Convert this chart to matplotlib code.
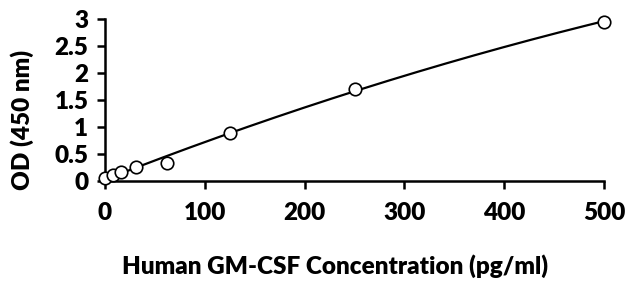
import numpy as np
import matplotlib.pyplot as plt

# Standard curve points
conc = [0, 7.8, 15.6, 31.25, 62.5, 125, 250, 500]
od = [0.05, 0.11, 0.17, 0.26, 0.33, 0.89, 1.71, 2.95]

plt.rcParams['font.family'] = ['Lato', 'DejaVu Sans']
plt.rcParams['font.weight'] = 'heavy'

# quadratic trendline through the points
coef = np.polyfit(conc, od, 2)
xfit = np.linspace(0, 500, 300)
yfit = np.polyval(coef, xfit)

fig = plt.figure(figsize=(6.28, 2.82), dpi=100)
ax = fig.add_axes([105 / 628, 101 / 282, 499 / 628, 162 / 282])
ax.plot(xfit, yfit, color="black", lw=1.6, zorder=2)
ax.plot(conc, od, "o", mfc="white", mec="black", mew=1.2, ms=9, zorder=3,
        clip_on=False)

ax.set_xlim(0, 500)
ax.set_ylim(0, 3)
ax.set_xticks([0, 100, 200, 300, 400, 500])
ax.set_yticks([0, 0.5, 1, 1.5, 2, 2.5, 3])
ax.set_yticklabels(["0", "0.5", "1", "1.5", "2", "2.5", "3"])
ax.spines[["top", "right"]].set_visible(False)
for s in ["left", "bottom"]:
    ax.spines[s].set_linewidth(1.8)
ax.tick_params(width=1.8, length=6, labelsize=17.5)
ax.tick_params(axis="x", pad=9)
ax.tick_params(axis="y", pad=6)

ax.set_xlabel("Human GM-CSF Concentration (pg/ml)", fontsize=17.5, fontweight="heavy", va="center")
ax.xaxis.set_label_coords(0.462, -0.525)
ax.set_ylabel("OD (450 nm)", fontsize=17.5, fontweight="heavy", va="center")
ax.yaxis.set_label_coords(-0.166, 0.377)

fig.savefig("out.png", dpi=100)
